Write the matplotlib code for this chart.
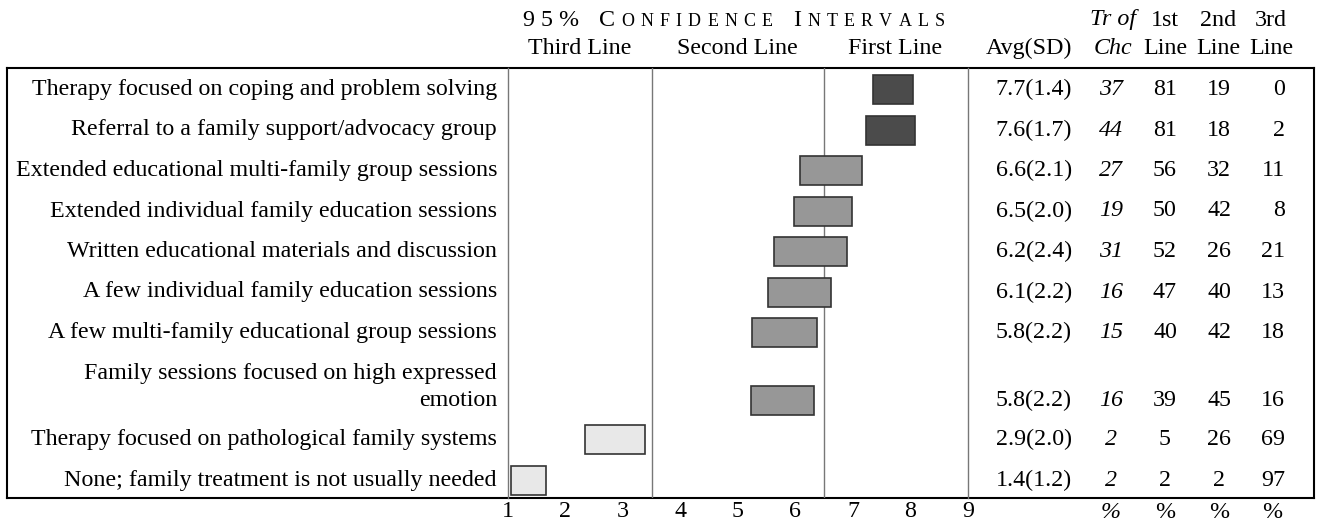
import matplotlib
matplotlib.use("Agg")
import matplotlib.pyplot as plt

plt.rcParams['font.family'] = ['Liberation Serif', 'DejaVu Serif']

labels = [
    "Therapy focused on coping and problem solving",
    "Referral to a family support/advocacy group",
    "Extended educational multi-family group sessions",
    "Extended individual family education sessions",
    "Written educational materials and discussion",
    "A few individual family education sessions",
    "A few multi-family educational group sessions",
    "Family sessions focused on high expressed\nemotion",
    "Therapy focused on pathological family systems",
    "None; family treatment is not usually needed",
]
avg = [7.7, 7.6, 6.6, 6.5, 6.2, 6.1, 5.8, 5.8, 2.9, 1.4]
sd = [1.4, 1.7, 2.1, 2.0, 2.4, 2.2, 2.2, 2.2, 2.0, 1.2]
ci_lo = [7.34, 7.22, 6.07, 5.97, 5.63, 5.53, 5.25, 5.22, 2.34, 1.05]
ci_hi = [8.04, 8.07, 7.15, 6.98, 6.89, 6.61, 6.38, 6.33, 3.39, 1.66]
tr_chc = [37, 44, 27, 19, 31, 16, 15, 16, 2, 2]
first_line = [81, 81, 56, 50, 52, 47, 40, 39, 5, 2]
second_line = [19, 18, 32, 42, 26, 40, 42, 45, 26, 2]
third_line = [0, 2, 11, 8, 21, 13, 18, 16, 69, 97]
category = ["First", "First", "Second", "Second", "Second", "Second",
            "Second", "Second", "Third", "Third"]
cat_colors = {"First": "#4b4b4b", "Second": "#979797", "Third": "#e8e8e8"}
ticks = [1, 2, 3, 4, 5, 6, 7, 8, 9]

# layout in pixels (figure is 1321 x 523)
W, H = 1321, 523
row_y = [89.5, 130, 170.5, 211, 251.5, 292, 332.5, 400.5, 439.5, 480.5]
box_l, box_r, box_t, box_b = 7, 1314, 68, 498
ci_l, ci_r = 508, 968
FS = 17.3
line_gap = 27

fig = plt.figure(figsize=(W / 100, H / 100), dpi=100)

# full-figure pixel axes for the table text and frame
tab = fig.add_axes([0, 0, 1, 1])
tab.set_xlim(0, W)
tab.set_ylim(H, 0)
tab.axis('off')

# axes for the confidence intervals
ax = fig.add_axes([ci_l / W, (H - box_b) / H, (ci_r - ci_l) / W, (box_b - box_t) / H])
ax.set_xlim(1, 9)
ax.set_ylim(box_b, box_t)
ax.patch.set_alpha(0)
for s in ['top', 'bottom']:
    ax.spines[s].set_visible(False)
for s in ['left', 'right']:
    ax.spines[s].set_color('#777777')
    ax.spines[s].set_linewidth(1.0)
ax.axvline(3.5, color='#777777', lw=1.0)
ax.axvline(6.5, color='#777777', lw=1.0)
ax.set_yticks([])
ax.set_xticks(ticks)
ax.set_xticklabels([str(t) for t in ticks], fontsize=FS)
ax.tick_params(axis='x', length=0, pad=2.5)

widths = [h - l for l, h in zip(ci_lo, ci_hi)]
ax.barh(row_y, widths, left=ci_lo, height=29,
        color=[cat_colors[c] for c in category],
        edgecolor='#333333', linewidth=1.2, zorder=3)

# frame
tab.plot([box_l, box_r], [box_t, box_t], color='black', lw=1.5)
tab.plot([box_l, box_r], [box_b, box_b], color='black', lw=1.5)
tab.plot([box_l, box_l], [box_t, box_b], color='black', lw=1.5)
tab.plot([box_r, box_r], [box_t, box_b], color='black', lw=1.5)

# row labels and values
x_avg_r, x_tr, x_c1, x_c2, x_c3_r = 1072, 1111, 1165, 1219, 1285
for i, lab in enumerate(labels):
    parts = lab.split("\n")
    for k, p in enumerate(parts):
        tab.text(497, row_y[i] - line_gap * (len(parts) - 1 - k), p,
                 ha='right', va='center', fontsize=FS)
    y = row_y[i]
    tab.text(x_avg_r, y, f"{avg[i]:.1f}({sd[i]:.1f})", ha='right', va='center', fontsize=FS)
    tab.text(x_tr, y, str(tr_chc[i]), ha='center', va='center', fontsize=FS, style='italic')
    tab.text(x_c1, y, str(first_line[i]), ha='center', va='center', fontsize=FS)
    tab.text(x_c2, y, str(second_line[i]), ha='center', va='center', fontsize=FS)
    tab.text(x_c3_r, y, str(third_line[i]), ha='right', va='center', fontsize=FS)

# column headers
y1, y2 = 20, 48
tab.text(x_avg_r, y2, "Avg(SD)", ha='right', va='center', fontsize=FS)
tab.text(x_tr + 2, y1, "Tr of", ha='center', va='center', fontsize=FS, style='italic')
tab.text(x_tr + 2, y2, "Chc", ha='center', va='center', fontsize=FS, style='italic')
for xc, top in [(x_c1, "1st"), (x_c2 - 1, "2nd"), (1271, "3rd")]:
    tab.text(xc, y1, top, ha='center', va='center', fontsize=FS)
    tab.text(xc, y2, "Line", ha='center', va='center', fontsize=FS)
tab.text(580, y2, "Third Line", ha='center', va='center', fontsize=FS)
tab.text(737, y2, "Second Line", ha='center', va='center', fontsize=FS)
tab.text(895, y2, "First Line", ha='center', va='center', fontsize=FS)

# percent signs under the columns
y_pct = 513
tab.text(x_tr, y_pct, "%", ha='center', va='center', fontsize=FS, style='italic')
for xc in [x_c1, x_c2, 1272]:
    tab.text(xc, y_pct, "%", ha='center', va='center', fontsize=FS)

# small-caps, letter-spaced title
renderer = fig.canvas.get_renderer()
big, small = FS, FS * 0.75
pieces = [("9", big), ("5", big), ("%", big), (" ", big),
          ("C", big)] + [(c, small) for c in "ONFIDENCE"] + [(" ", big), ("I", big)] + \
         [(c, small) for c in "NTERVALS"]


def char_width(ch, size):
    if ch == " ":
        return 8
    t = tab.text(0, 0, ch, fontsize=size)
    bb = t.get_window_extent(renderer)
    t.remove()
    return bb.width


cw = [char_width(c, s) for c, s in pieces]
title_l, title_r = 522, 945
track = (title_r - title_l - sum(cw)) / (len(pieces) - 1)
x = title_l
for (c, s), w in zip(pieces, cw):
    if c != " ":
        tab.text(x, 20 + (big - s) * 0.3, c, ha='left', va='center', fontsize=s)
    x += w + track

fig.savefig("out.png", dpi=100)
